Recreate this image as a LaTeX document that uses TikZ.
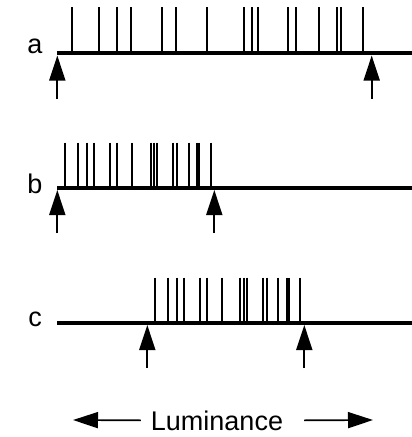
\documentclass[tikz,border=0pt]{standalone}
\usepackage{fontspec}
\setmainfont{Liberation Sans}
\usetikzlibrary{arrows.meta}

\begin{document}
\begin{tikzpicture}[
    x = 1pt, y = -1pt, % pixel-like units
    axis/.style = {line width=4.2pt},
    spike/.style = {line width=1.7pt},
    marker/.style = {-{Triangle[length=25pt, width=16pt]}, line width=1.7pt},
    lbl/.style = {font=\fontsize{27}{29}\selectfont, inner sep=0pt}
]
\useasboundingbox (0,0) rectangle (412,437);

% Labels
\node[lbl] (la) at (35,46) {a};
\node[lbl] (lb) at (35,184) {b};
\node[lbl] (lc) at (35,319) {c};

% Axes
\coordinate (a0) at (57,53);
\coordinate (a1) at (412,53);
\coordinate (b0) at (57,187.7);
\coordinate (b1) at (412,187.7);
\coordinate (c0) at (57,322.7);
\coordinate (c1) at (412,322.7);
\draw[axis] (a0) -- (a1);
\draw[axis] (b0) -- (b1);
\draw[axis] (c0) -- (c1);

% Spikes
\foreach \x in {72.3, 99, 117, 131.3, 162, 176.3, 206.7, 243.7, 252, 257.7,
                288.3, 296.3, 318.7, 336.7, 341.3, 363.3}
    \draw[spike] (\x,7) -- (\x,53);
\foreach \x in {65, 78.3, 86.7, 94, 109.7, 117.3, 132, 151, 154.3, 157.3,
                173.3, 177, 188.7, 197, 199, 210.7}
    \draw[spike] (\x,142.7) -- (\x,187.7);
\foreach \x in {155, 168, 177, 184, 200.3, 206.7, 222, 240.3, 243.7, 247.3,
                262.7, 266.7, 278, 287, 288.7, 300.3}
    \draw[spike] (\x,277.7) -- (\x,322.7);

% Range markers
\coordinate (ma1) at (57.3,99);   \coordinate (ta1) at (57.3,55.5);
\coordinate (ma2) at (371.7,99);  \coordinate (ta2) at (371.7,55.5);
\coordinate (mb1) at (57.3,233);  \coordinate (tb1) at (57.3,190);
\coordinate (mb2) at (214.3,233); \coordinate (tb2) at (214.3,190);
\coordinate (mc1) at (147.3,368); \coordinate (tc1) at (147.3,325);
\coordinate (mc2) at (304.3,368); \coordinate (tc2) at (304.3,325);
\draw[marker] (ma1) -- (ta1);
\draw[marker] (ma2) -- (ta2);
\draw[marker] (mb1) -- (tb1);
\draw[marker] (mb2) -- (tb2);
\draw[marker] (mc1) -- (tc1);
\draw[marker] (mc2) -- (tc2);

% Luminance axis
\node[lbl, anchor=base] (lum) at (217,430) {Luminance};
\coordinate (lumL) at (73,420);
\coordinate (lumR) at (373,420);
\draw[marker] (lum.west) ++(-10,0) coordinate (lumLs) (lumLs) -- (lumL);
\draw[marker] (lum.east) ++(21,0) coordinate (lumRs) (lumRs) -- (lumR);

\end{tikzpicture}
\end{document}
